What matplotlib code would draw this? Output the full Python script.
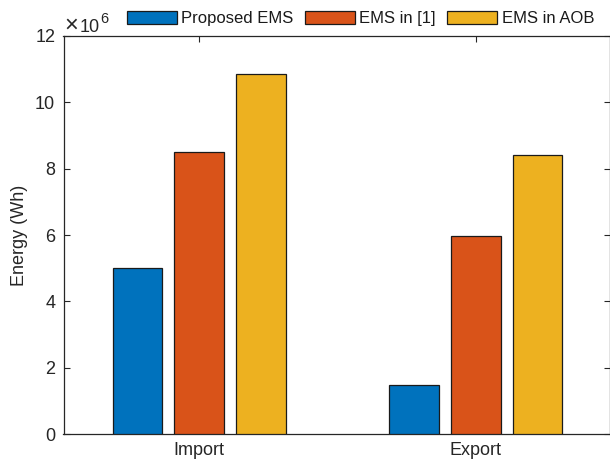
import matplotlib
matplotlib.use("Agg")
import matplotlib.pyplot as plt
import matplotlib.transforms as mtransforms
import numpy as np

plt.rcParams['font.family'] = ['Liberation Sans', 'DejaVu Sans']

categories = ["Import", "Export"]
series_names = ["Proposed EMS", "EMS in [1]", "EMS in AOB"]
proposed = [5.02e6, 1.48e6]
ems_ref1 = [8.50e6, 5.97e6]
ems_aob = [10.85e6, 8.40e6]
colors = ["#0072BD", "#D95319", "#EDB120"]

W, H = 610, 465
fig = plt.figure(figsize=(W / 100, H / 100), dpi=100)
left, right, top, bottom = 63.5, 610.0, 36.0, 434.0
ax = fig.add_axes([left / W, (H - bottom) / H, (right - left) / W, (bottom - top) / H])

x = np.arange(1, len(categories) + 1)
offset = 0.223
width = 0.179
for i, (vals, name, c) in enumerate(zip([proposed, ems_ref1, ems_aob], series_names, colors)):
    ax.bar(x + (i - 1) * offset, vals, width, color=c, edgecolor="#1a1a1a",
           linewidth=0.9, label=name, zorder=3)

ax.set_xlim(0.51, 2.485)
ax.set_ylim(0, 12e6)
ax.set_xticks(x)
ax.set_xticklabels(categories)
ax.set_yticks(np.arange(0, 12.1e6, 2e6))
ax.set_yticklabels([str(v) for v in range(0, 13, 2)])
ax.tick_params(direction="in", top=True, right=True, labelsize=13, length=4,
               width=0.8, colors="#262626", labelcolor="#262626", pad=6)
for s in ax.spines.values():
    s.set_linewidth(0.9)
    s.set_color("#262626")
ax.set_ylabel("Energy (Wh)", fontsize=13, color="#262626", labelpad=5)


def corner_text(s, dx, dy, size):
    tr = mtransforms.offset_copy(ax.transAxes, fig=fig, x=dx, y=dy, units="dots")
    ax.text(0, 1, s, transform=tr, fontsize=size, color="#262626",
            ha="left", va="baseline")


# exponent label for the y axis (×10^6) above the top-left corner
corner_text("\u00d7", 1.0, 4.6, 17)
corner_text("10", 16.5, 4.3, 13)
corner_text("6", 36.5, 12.7, 10.5)

leg = fig.legend(loc="center left", bbox_to_anchor=(126.7 / W, 1 - 18.2 / H), ncol=3,
                 frameon=False, fontsize=12, handlelength=3.0, handleheight=0.84,
                 handletextpad=0.27, columnspacing=0.68, borderpad=0, borderaxespad=0)
for t in leg.get_texts():
    t.set_color("#1a1a1a")

fig.savefig("out.png", dpi=100)
